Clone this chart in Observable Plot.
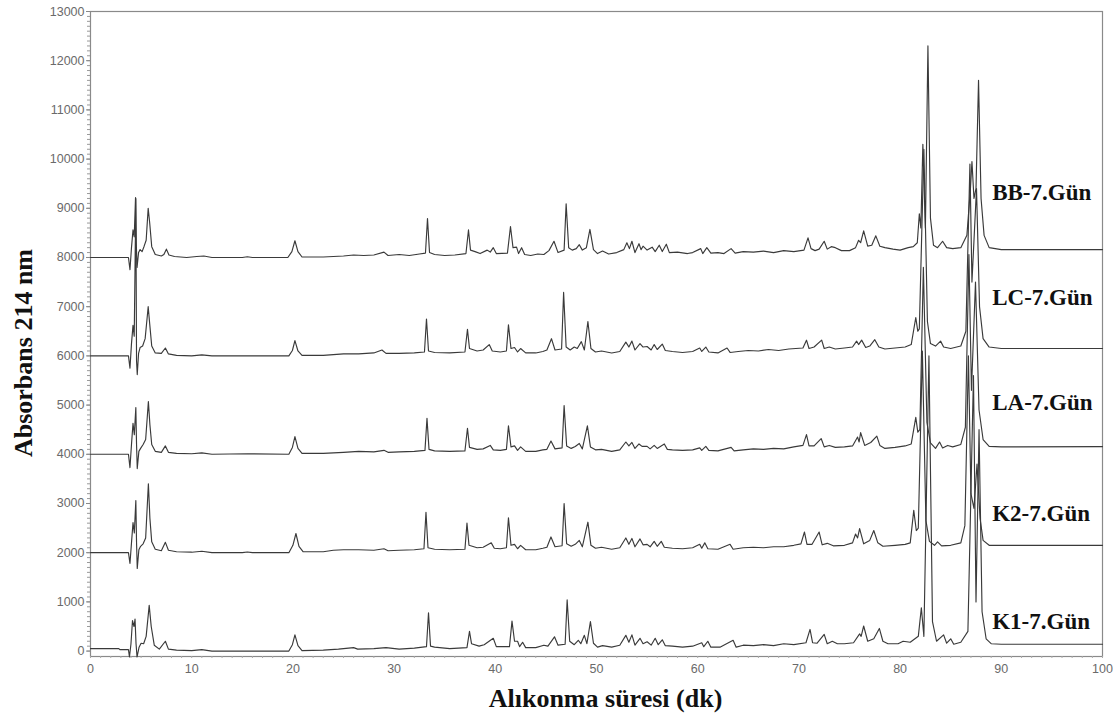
<!DOCTYPE html>
<html>
<head>
<meta charset="utf-8">
<script src="https://cdn.jsdelivr.net/npm/d3@7"></script>
<script src="https://cdn.jsdelivr.net/npm/@observablehq/plot@0.6"></script>
<style>
  html, body { margin: 0; padding: 0; background: #fff; }
  #chart svg { display: block; }
</style>
</head>
<body>
<div id="chart"></div>
<script>
// ---- Data ----
const sampleNames = ["BB-7.Gün", "LC-7.Gün", "LA-7.Gün", "K2-7.Gün", "K1-7.Gün"];
const sampleOffsets = [8000, 6000, 4000, 2000, 0];

const xTicks = [0, 10, 20, 30, 40, 50, 60, 70, 80, 90, 100];
const yTicks = [0, 1000, 2000, 3000, 4000, 5000, 6000, 7000, 8000, 9000, 10000, 11000, 12000, 13000];

// [retention time (min), absorbance above the trace's offset]
const traceBB = [[0,0],[3.75,0],[3.9,-250],[4.05,200],[4.2,560],[4.32,420],[4.45,1220],[4.52,300],[4.6,-200],[4.75,100],[4.9,160],[5.1,120],[5.3,230],[5.5,350],[5.7,1000],[5.85,700],[6.05,220],[6.4,60],[7.0,30],[7.25,60],[7.5,170],[7.75,50],[8.3,20],[9.5,0],[10.5,20],[11.2,30],[12,0],[15,0],[15.5,15],[16,0],[19.5,0],[19.9,120],[20.2,340],[20.5,120],[20.9,10],[23,10],[25,30],[26,50],[27,40],[28,50],[29,110],[29.4,40],[30.5,60],[31.5,40],[32.5,70],[33.1,90],[33.3,790],[33.5,100],[34,60],[35,40],[36,50],[37.1,80],[37.35,560],[37.55,150],[38,120],[38.5,80],[39.2,150],[39.5,110],[39.8,200],[40.1,80],[41.2,90],[41.5,630],[41.75,200],[42.1,210],[42.3,80],[42.6,200],[42.9,60],[43.5,40],[44.2,70],[44.8,60],[45.3,140],[45.8,330],[46.2,100],[46.8,150],[47.0,1090],[47.25,200],[47.6,150],[48.0,180],[48.3,260],[48.6,150],[49.0,200],[49.35,570],[49.7,160],[50.1,80],[50.6,130],[51.2,70],[52,100],[52.7,160],[53.0,300],[53.25,180],[53.5,330],[53.8,100],[54.2,280],[54.4,160],[54.6,230],[55,150],[55.5,210],[55.8,120],[56.2,250],[56.5,120],[56.9,270],[57.2,100],[58,110],[59,80],[59.5,100],[60.3,180],[60.5,80],[60.9,200],[61.3,90],[62,100],[62.6,80],[63.3,180],[63.7,90],[64.5,120],[65.5,110],[66.5,130],[67.5,100],[68.5,140],[69.5,120],[70.5,150],[70.9,400],[71.2,180],[71.6,140],[72.0,170],[72.5,330],[72.8,170],[73.2,220],[73.6,200],[74.2,140],[75.0,140],[75.6,200],[75.9,350],[76.1,300],[76.4,540],[76.8,230],[77.2,250],[77.6,440],[78.0,230],[78.5,200],[79.3,170],[80,150],[80.8,200],[81.3,220],[81.7,300],[81.9,890],[82.05,600],[82.25,2300],[82.5,600],[82.75,4300],[83.0,800],[83.3,250],[83.7,200],[84.2,330],[84.6,200],[85.2,180],[86.0,200],[86.6,450],[86.95,1400],[87.1,1950],[87.3,1200],[87.5,1400],[87.75,3600],[88.0,1200],[88.3,450],[88.8,200],[90,160],[100,160]];

const traceLC = [[0,0],[3.75,0],[3.9,-250],[4.05,250],[4.2,620],[4.32,400],[4.48,3200],[4.55,-100],[4.62,-380],[4.75,50],[4.9,170],[5.15,200],[5.4,350],[5.7,1000],[5.85,650],[6.05,200],[6.4,60],[7.0,50],[7.4,160],[7.7,40],[8.5,10],[10,0],[11,20],[12,0],[19.6,0],[19.95,110],[20.2,310],[20.5,100],[20.9,10],[23,10],[25,40],[26.5,40],[28,60],[28.8,120],[29.2,50],[30.5,50],[32,60],[33.0,80],[33.2,750],[33.4,100],[34,70],[35.5,60],[37.0,80],[37.25,540],[37.45,150],[38.2,100],[38.8,120],[39.4,230],[39.7,100],[40.5,80],[41.1,100],[41.3,630],[41.55,150],[41.9,170],[42.2,80],[42.5,150],[43,60],[44,60],[44.7,90],[45.1,120],[45.55,350],[45.9,120],[46.55,140],[46.75,1290],[47.0,180],[47.4,120],[47.8,180],[48.1,150],[48.5,290],[48.8,120],[49.15,700],[49.45,150],[49.9,80],[50.5,100],[51.5,60],[52.3,90],[52.9,280],[53.2,180],[53.5,300],[53.8,120],[54.3,250],[54.6,180],[55.0,190],[55.4,120],[55.7,230],[56.0,130],[56.5,240],[56.8,110],[57.5,90],[58.5,70],[59.5,90],[60.2,160],[60.4,90],[60.8,180],[61.1,80],[62,60],[62.9,160],[63.2,70],[64,90],[65,110],[66,100],[67,130],[68,110],[69,140],[70.4,160],[70.75,320],[71.0,150],[71.5,180],[72.25,320],[72.5,150],[73,180],[73.6,140],[74.5,160],[75.3,180],[75.7,300],[75.9,230],[76.2,320],[76.6,170],[77.0,200],[77.5,330],[77.9,180],[78.5,140],[79.5,160],[80.5,180],[81.1,230],[81.55,780],[81.75,500],[81.9,550],[82.35,4200],[82.7,700],[83.0,250],[83.5,200],[84.0,300],[84.3,180],[85,150],[86.0,200],[86.5,500],[86.9,3900],[87.1,1500],[87.55,3400],[87.85,1000],[88.2,350],[88.8,180],[90,150],[100,150]];

const traceLA = [[0,0],[3.75,0],[3.9,-270],[4.05,200],[4.2,630],[4.33,400],[4.48,950],[4.55,200],[4.62,-290],[4.78,60],[4.95,120],[5.2,200],[5.45,300],[5.72,1070],[5.87,600],[6.05,200],[6.4,60],[7.0,40],[7.4,170],[7.7,40],[8.5,20],[10,10],[11,30],[12,0],[15.5,10],[19.6,0],[19.95,140],[20.2,360],[20.5,120],[20.9,20],[23,20],[25,40],[26.5,60],[28,50],[29,80],[29.4,40],[30.5,50],[32,60],[33.05,80],[33.25,730],[33.45,100],[34,70],[35.5,60],[37.0,70],[37.25,530],[37.45,140],[38.2,100],[38.8,110],[39.5,180],[39.8,90],[40.5,80],[41.1,100],[41.3,580],[41.55,150],[41.9,170],[42.2,80],[42.5,150],[43,60],[44,60],[44.7,90],[45.1,100],[45.5,270],[45.9,110],[46.6,130],[46.8,990],[47.05,170],[47.5,120],[47.9,160],[48.3,220],[48.6,110],[49.1,580],[49.4,150],[49.9,90],[50.5,100],[51.5,60],[52.3,90],[52.9,250],[53.2,170],[53.5,240],[53.8,120],[54.2,210],[54.5,160],[55,160],[55.3,110],[55.7,180],[56,120],[56.7,210],[57,100],[57.5,90],[58.5,80],[59.5,90],[60.2,130],[60.4,80],[60.8,160],[61.1,80],[62,70],[63.3,140],[63.6,70],[64.5,90],[65.5,110],[66.5,100],[67.5,120],[68.5,110],[69.5,150],[70.4,180],[70.75,400],[71.0,170],[71.5,170],[72.2,320],[72.5,150],[73,180],[73.6,140],[74.5,150],[75.3,170],[75.8,350],[75.95,250],[76.1,440],[76.5,180],[77.1,240],[77.7,370],[78.0,180],[78.5,120],[79.5,140],[80.5,170],[81.1,210],[81.55,750],[81.75,450],[81.95,500],[82.3,3800],[82.65,650],[83.0,230],[83.5,120],[83.9,250],[84.2,130],[84.7,180],[85.2,150],[86.0,200],[86.45,550],[86.8,4060],[87.05,1300],[87.45,3500],[87.8,900],[88.2,300],[88.8,160],[90,150],[100,155]];

const traceK2 = [[0,0],[3.75,0],[3.9,-220],[4.05,200],[4.2,610],[4.33,400],[4.48,1060],[4.55,200],[4.62,-320],[4.78,60],[4.95,130],[5.2,180],[5.45,300],[5.72,1400],[5.87,700],[6.05,220],[6.4,70],[7.0,40],[7.4,210],[7.7,50],[8.5,20],[10,10],[11,30],[12,0],[15,0],[15.5,15],[16,0],[19.6,0],[20.0,150],[20.3,390],[20.6,130],[21,20],[23,20],[24,50],[25,60],[26.5,60],[28,50],[29,80],[29.4,40],[30.5,50],[32,60],[32.95,80],[33.15,820],[33.35,100],[34,70],[35.5,60],[37.0,70],[37.2,600],[37.4,150],[38.2,100],[38.8,110],[39.6,200],[39.9,90],[40.5,80],[41.1,100],[41.3,710],[41.55,150],[41.9,170],[42.2,80],[42.5,150],[43,60],[44,60],[44.7,90],[45.1,110],[45.5,320],[45.9,120],[46.6,140],[46.8,1000],[47.05,180],[47.5,130],[47.9,170],[48.3,250],[48.6,120],[49.15,620],[49.45,150],[49.9,90],[50.5,110],[51.5,70],[52.3,100],[52.9,300],[53.2,170],[53.5,290],[53.8,120],[54.3,280],[54.6,160],[55,170],[55.3,120],[55.7,230],[56,130],[56.4,230],[56.7,110],[57.5,90],[58.5,80],[59.5,100],[60.2,170],[60.4,90],[60.7,200],[61,80],[62,70],[63.2,170],[63.5,70],[64.5,100],[65.5,110],[66.5,100],[67.5,120],[68.5,120],[69.5,150],[70.2,180],[70.55,420],[70.8,170],[71.3,170],[72.0,420],[72.3,160],[72.8,190],[73.4,140],[74.5,150],[75.3,200],[75.6,380],[75.8,300],[76.0,490],[76.4,180],[77.0,250],[77.4,450],[77.8,200],[78.3,130],[79.5,150],[80.5,170],[81.0,200],[81.35,860],[81.6,450],[81.8,500],[82.2,4100],[82.55,650],[82.9,230],[83.4,150],[83.7,220],[84.1,140],[85,150],[86.0,200],[86.4,550],[86.75,4000],[87.0,1200],[87.3,900],[87.6,1800],[87.9,700],[88.2,250],[88.8,150],[90,150],[100,150]];

const traceK1 = [[0,50],[2.8,50],[2.9,30],[3.75,30],[3.85,-120],[4.0,150],[4.15,620],[4.3,500],[4.4,650],[4.5,150],[4.6,-120],[4.8,80],[5.0,160],[5.25,150],[5.5,300],[5.8,930],[6.0,500],[6.3,120],[6.8,40],[7.4,200],[7.7,40],[8.5,20],[10,10],[11,30],[12,0],[19.6,0],[19.95,130],[20.2,330],[20.5,110],[20.9,10],[23,20],[24.5,40],[26,70],[26.4,40],[28,50],[29.2,70],[30.5,40],[32,60],[33.2,90],[33.4,780],[33.6,100],[34,80],[35.5,50],[37.2,70],[37.45,400],[37.65,150],[38.4,100],[38.9,130],[39.8,260],[40.1,90],[41.4,90],[41.65,610],[41.9,200],[42.2,200],[42.4,90],[42.7,180],[43,70],[44,70],[44.8,120],[45.2,100],[45.85,290],[46.2,120],[46.9,140],[47.1,1040],[47.35,200],[47.8,130],[48.2,220],[48.45,150],[48.8,320],[49.05,150],[49.4,600],[49.7,160],[50.1,80],[50.6,110],[51.5,80],[52.3,120],[52.9,320],[53.2,180],[53.5,330],[53.8,120],[54.3,260],[54.6,150],[55,190],[55.4,120],[55.8,260],[56.1,130],[56.5,230],[56.8,110],[57.5,100],[58.5,80],[59.5,100],[60.4,170],[60.6,90],[61.0,200],[61.3,80],[62.2,80],[63.5,220],[63.8,80],[64.5,120],[65.5,110],[66.5,130],[67.5,110],[68.5,150],[69.5,130],[70.7,170],[71.1,440],[71.35,170],[71.8,160],[72.5,340],[72.8,150],[73.3,200],[73.8,150],[74.5,150],[75.4,170],[76.0,350],[76.15,300],[76.4,510],[76.8,200],[77.4,250],[77.95,460],[78.3,200],[78.8,150],[79.8,150],[80.3,200],[81,180],[81.8,300],[82.1,880],[82.35,300],[82.85,6000],[83.2,600],[83.6,200],[84.3,330],[84.6,160],[85.0,250],[85.3,140],[86.0,180],[86.7,400],[87.25,5600],[87.5,1000],[87.8,4500],[88.1,800],[88.5,250],[89,150],[90,140],[100,140]];

const traces = [traceBB, traceLC, traceLA, traceK2, traceK1];

// ---- Build table for Plot ----
const rows = [];
traces.forEach((pts, i) => {
  pts.forEach(([t, v]) => rows.push({sample: sampleNames[i], t, a: sampleOffsets[i] + v}));
});
const labels = sampleNames.map((name, i) => ({name, offset: sampleOffsets[i]}));
const labelLift = [1310, 1180, 1040, 790, 590]; // vertical placement of each name above its trace

const serif = "'Liberation Serif', 'Times New Roman', serif";
const sans = "'Liberation Sans', Arial, sans-serif";

const chart = Plot.plot({
  width: 1113,
  height: 718,
  marginLeft: 90,
  marginRight: 11,
  marginTop: 11,
  marginBottom: 62,
  style: {background: "#fff", fontFamily: sans, overflow: "visible"},
  x: {domain: [0, 100], label: null},
  y: {domain: [-110, 13000], label: null},
  marks: [
    Plot.frame({stroke: "#8a8a8a", strokeWidth: 1.2}),
    // minor ticks
    Plot.axisY({ticks: d3.range(0, 13001, 100), tickSize: 3, tickFormat: () => "", stroke: "#999", label: null}),
    Plot.axisX({ticks: d3.range(0, 101, 1), tickSize: 2, tickFormat: () => "", stroke: "#aaa", label: null}),
    // major ticks with labels
    Plot.axisY({ticks: yTicks, tickSize: 4, tickPadding: 2, tickFormat: d => String(d), fontSize: 12.5, color: "#6a6a6a", stroke: "#888", label: null}),
    Plot.axisX({ticks: xTicks, tickSize: 0, tickPadding: 8, tickFormat: d => String(d), fontSize: 12.5, color: "#6a6a6a", label: null}),
    // chromatogram traces
    Plot.line(rows, {x: "t", y: "a", z: "sample", stroke: "#3a3a3a", strokeWidth: 1.15, curve: "linear"}),
    // sample names
    Plot.text(labels, {
      x: 89.1, y: (d, i) => d.offset + labelLift[i], text: "name",
      textAnchor: "start", fontFamily: serif, fontWeight: "bold", fontSize: 23, fill: "#111"
    }),
    // axis titles
    Plot.text(["Absorbans 214 nm"], {
      frameAnchor: "left", text: d => d, rotate: -90, dx: -67, dy: 19,
      textAnchor: "middle", lineAnchor: "middle",
      fontFamily: serif, fontWeight: "bold", fontSize: 26, fill: "#111"
    }),
    Plot.text(["Alıkonma süresi (dk)"], {
      frameAnchor: "bottom", text: d => d, dx: 9, dy: 42,
      textAnchor: "middle", lineAnchor: "middle",
      fontFamily: serif, fontWeight: "bold", fontSize: 26, fill: "#111"
    })
  ]
});
document.getElementById("chart").appendChild(chart);
</script>
</body>
</html>
